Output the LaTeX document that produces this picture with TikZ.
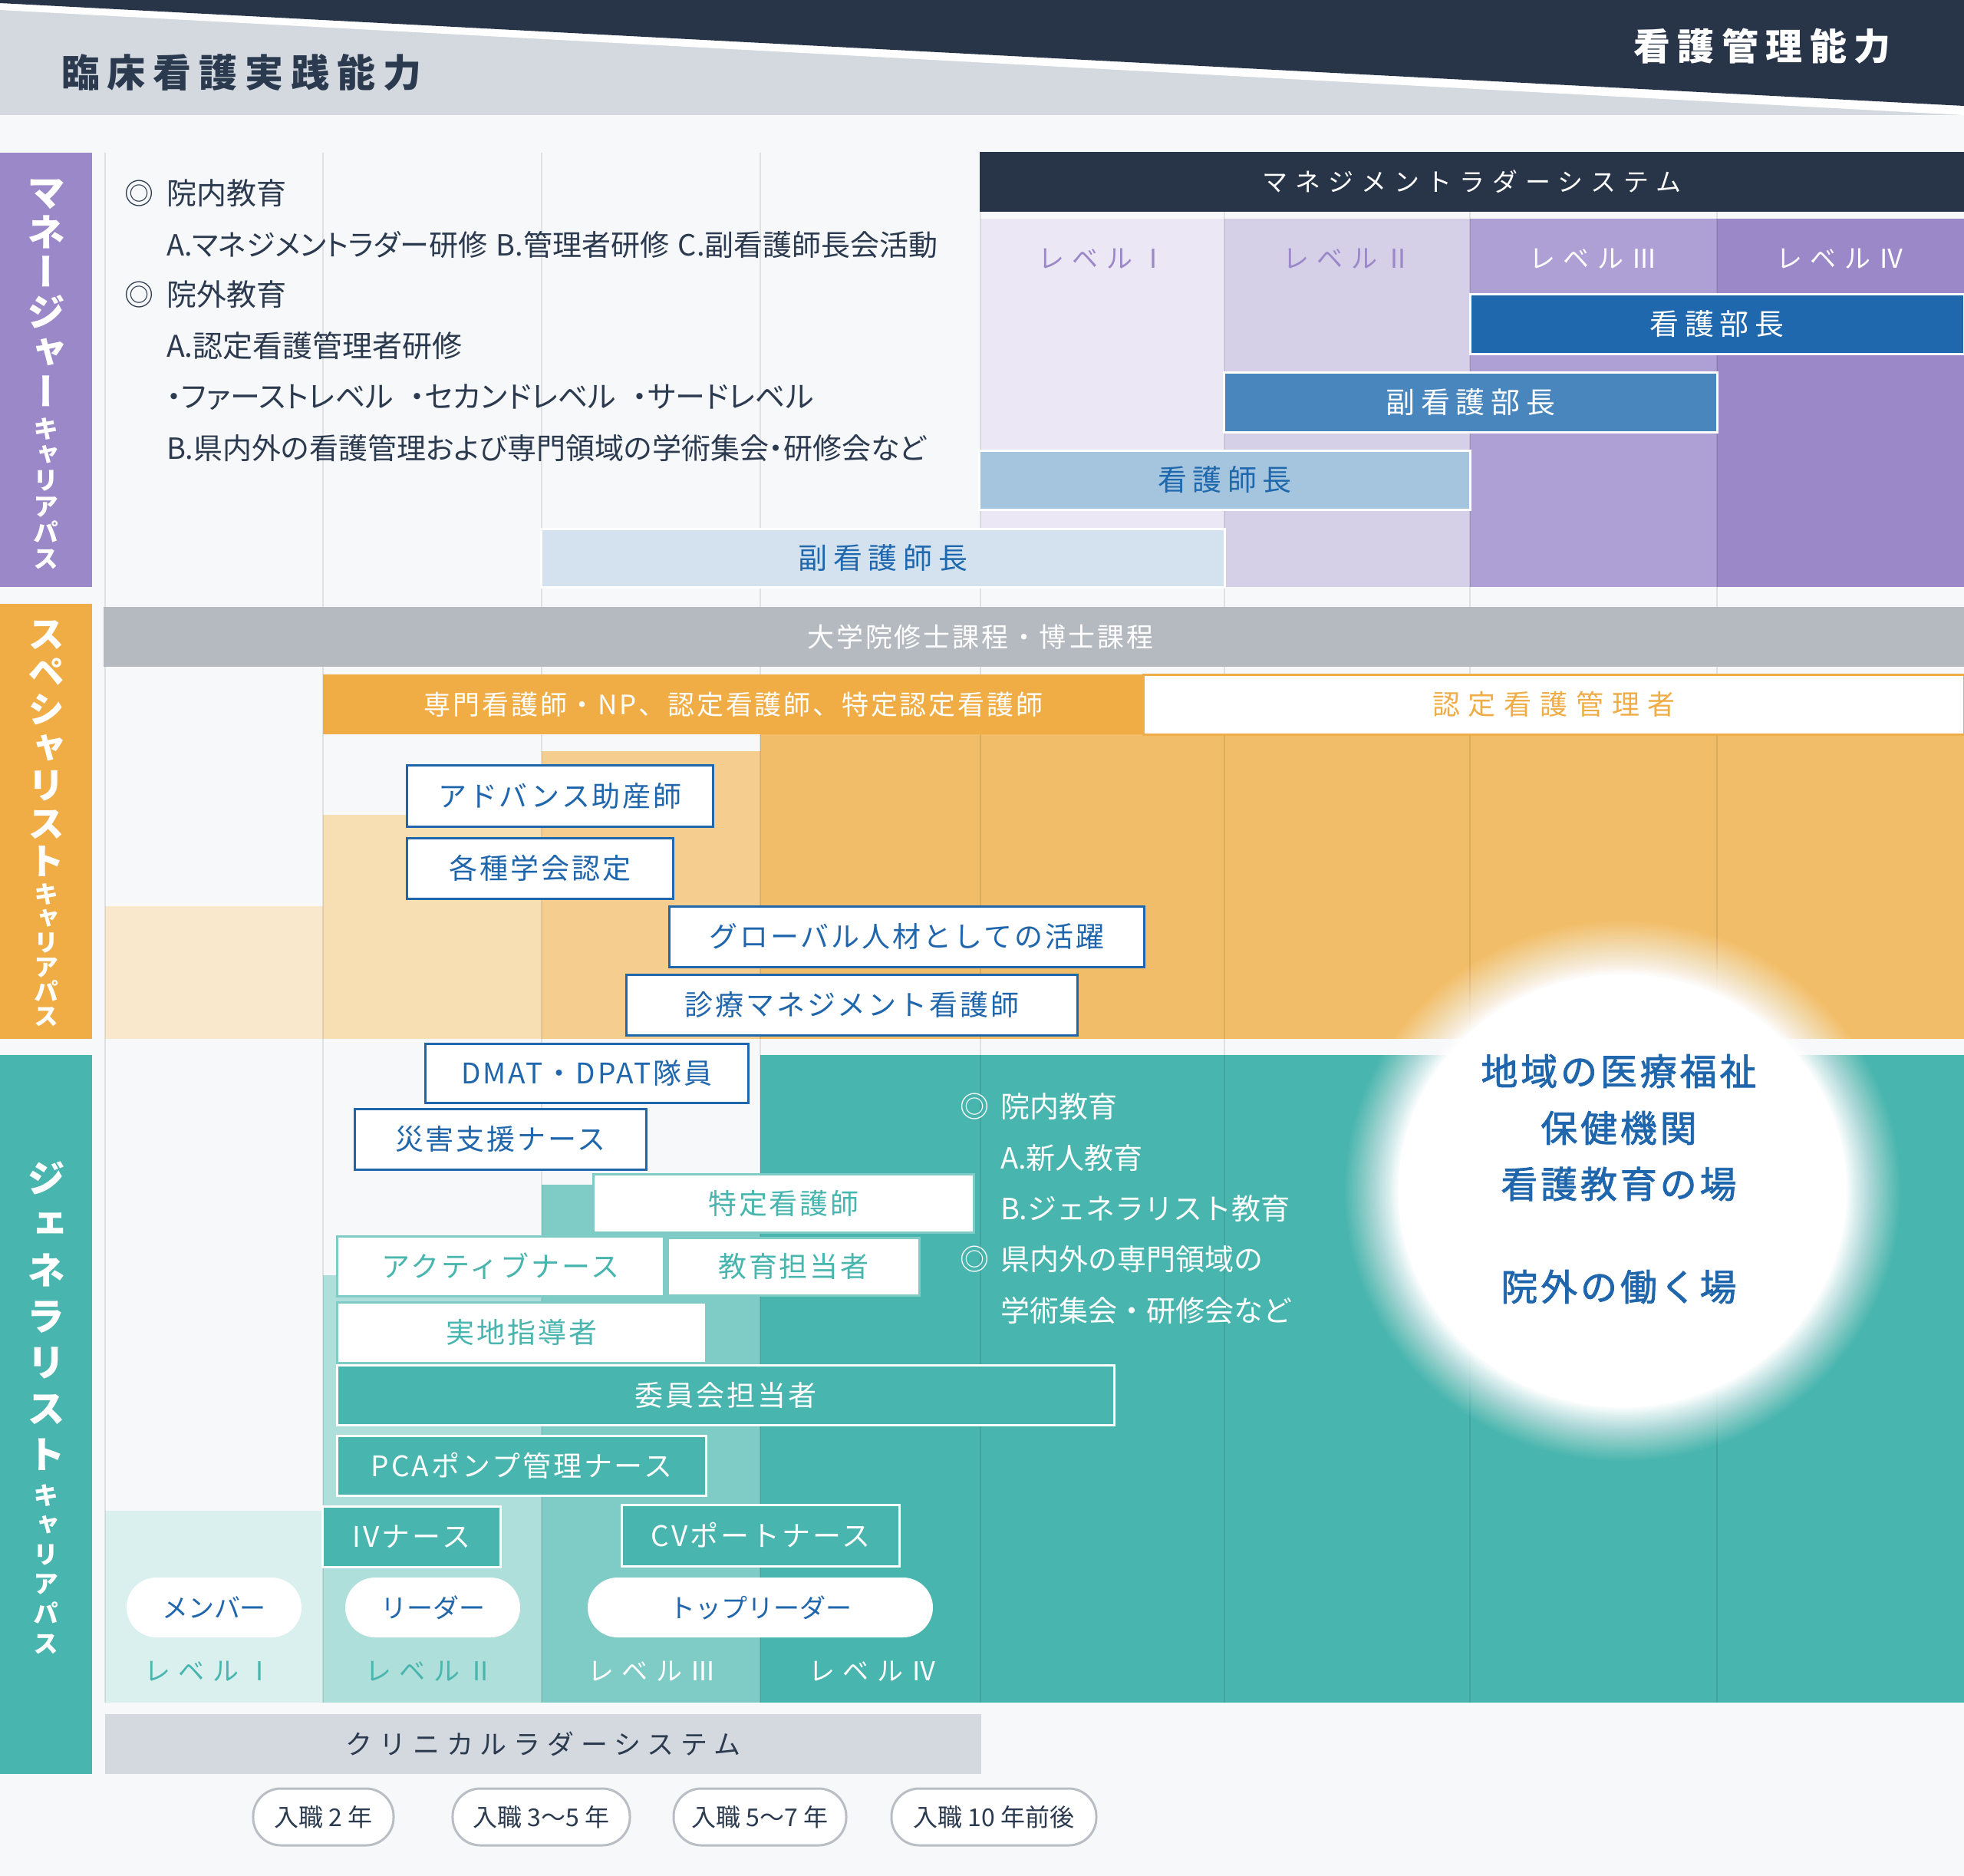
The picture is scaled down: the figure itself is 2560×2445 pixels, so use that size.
\documentclass[tikz,border=0pt]{standalone}
\usepackage{fontspec}
\setmainfont{Noto Sans CJK JP}
\newfontfamily\jp{Noto Sans CJK JP}
\newfontfamily\jpp[RawFeature=+palt]{Noto Sans CJK JP}
\newfontfamily\jpa[LetterSpace=8]{Noto Sans CJK JP}
\newfontfamily\jpm[LetterSpace=8,FakeBold=1.6]{Noto Sans CJK JP}
\newfontfamily\jpb[LetterSpace=20]{Noto Sans CJK JP}
\newfontfamily\jpc[LetterSpace=30]{Noto Sans CJK JP}
\newfontfamily\jpe[LetterSpace=25]{Noto Sans CJK JP}
\newfontfamily\jpd[LetterSpace=40]{Noto Sans CJK JP}
\newfontfamily\jpv[RawFeature=+vert]{Noto Sans CJK JP}
\newcommand\fpx[1]{\fontsize{\fpeval{#1*0.28453}pt}{\fpeval{#1*0.34}pt}\selectfont}
\definecolor{cnavy}{HTML}{283548}
\definecolor{ctext}{HTML}{2B3A4F}
\definecolor{cblue}{HTML}{1F66AC}
\definecolor{cbg}{HTML}{F7F8FA}
\definecolor{clgray}{HTML}{D3D9DE}
\definecolor{cmgray}{HTML}{B5B9C0}
\definecolor{cpur}{HTML}{9B88C8}
\definecolor{cpurc}{HTML}{AE9FD5}
\definecolor{cpurb}{HTML}{D6CFE8}
\definecolor{cpura}{HTML}{ECE7F4}
\definecolor{cora}{HTML}{F0AD45}
\definecolor{corb}{HTML}{F2BD68}
\definecolor{corc}{HTML}{F5CD8F}
\definecolor{cord}{HTML}{F8DEB3}
\definecolor{core}{HTML}{FAE8CC}
\definecolor{cteal}{HTML}{48B5AE}
\definecolor{ctealc}{HTML}{7FCBC6}
\definecolor{ctealb}{HTML}{AEDFDB}
\definecolor{cteala}{HTML}{DAF0EE}
\definecolor{crolea}{HTML}{1F68AD}
\definecolor{croleb}{HTML}{4886BD}
\definecolor{crolec}{HTML}{A5C4DD}
\definecolor{croled}{HTML}{D3E2EE}
\definecolor{cpill}{HTML}{B9BEC5}
% name, style, x1, x2, y1, y2, text
\newcommand\mybox[7]{%
  \pgfmathsetmacro\mbcx{(#3+#4)/2}%
  \pgfmathsetmacro\mbcy{(#5+#6)/2}%
  \pgfmathsetmacro\mbw{(#4-#3)*0.1}%
  \pgfmathsetmacro\mbh{(#6-#5)*0.1}%
  \node[#2, minimum width=\mbw mm, minimum height=\mbh mm] (#1) at (\mbcx,\mbcy) {#7};}
\begin{document}
\begin{tikzpicture}[x=0.1mm,y=-0.1mm,
  every node/.style={inner sep=0pt,outer sep=0pt},
  gridl/.style={line width=0.25mm,draw=black,draw opacity=0.09},
  vchar/.style={font=\jpv\bfseries\fpx{#1},text=white,anchor=base},
  desc/.style={font=\jpp\fpx{39},text=ctext,anchor=west},
  descw/.style={font=\jp\fpx{38},text=white,anchor=west},
  lvl/.style={font=\jpc\fpx{34}},
  rolebox/.style={draw=white,line width=0.3mm,font=\jpb\fpx{38}},
  bluebox/.style={draw=cblue,fill=white,line width=0.3mm,text=cblue,font=\jpa\fpx{37}},
  tealline/.style={draw=ctealc,fill=white,line width=0.3mm,text=cteal,font=\jpa\fpx{37}},
  tealfill/.style={draw=white,fill=cteal,line width=0.3mm,text=white,font=\jpa\fpx{37}},
  pill/.style={fill=white,rounded corners=3.9mm,text=cblue,font=\jp\fpx{34}},
  yearpill/.style={fill=white,draw=cpill,line width=0.3mm,rounded corners=3.6mm,text=ctext,font=\jp\fpx{32}},
  glowtxt/.style={font=\jpm\fpx{48},text=cblue},
]
\useasboundingbox (0,0) rectangle (2560,2445);
\fill[cbg] (0,0) rectangle (2560,2445);
% ---------- header
\fill[clgray] (0,0) rectangle (2560,150);
\fill[white] (0,0) -- (2560,0) -- (2560,150) -- (0,13) -- cycle;
\fill[cnavy] (0,0) -- (2560,0) -- (2560,138) -- (0,4) -- cycle;
\node[anchor=west,font=\jpb\bfseries\fpx{50},text=ctext] (title) at (80,94) {臨床看護実践能力};
\node[anchor=west,font=\jpb\bfseries\fpx{48},text=white] (title2) at (2129,60) {看護管理能力};
% ---------- left bars
\fill[cpur] (0,199) rectangle (120,765);
\fill[cora] (0,787) rectangle (120,1354);
\fill[cteal] (0,1375) rectangle (120,2312);
\foreach \c [count=\i from 0] in {マ,ネ,ー,ジ,ャ,ー}
  \node[vchar=50] (vm\i) at (60,{269+52*\i}) {\c};
\foreach \c [count=\i from 0] in {キ,ャ,リ,ア,パ,ス}
  \node[vchar=33] (vmk\i) at (60,{571+33.8*\i}) {\c};
\foreach \c [count=\i from 0] in {ス,ペ,シ,ャ,リ,ス,ト}
  \node[vchar=48] (vs\i) at (60,{844+49.4*\i}) {\c};
\foreach \c [count=\i from 0] in {キ,ャ,リ,ア,パ,ス}
  \node[vchar=32] (vsk\i) at (60,{1177+31.8*\i}) {\c};
\foreach \c [count=\i from 0] in {ジ,ェ,ネ,ラ,リ,ス,ト}
  \node[vchar=50] (vg\i) at (60,{1554+60*\i}) {\c};
\foreach \c [count=\i from 0] in {キ,ャ,リ,ア,パ,ス}
  \node[vchar=33] (vgk\i) at (60,{1961+38.6*\i}) {\c};
% ---------- background areas
\fill[cpura] (1278,285) rectangle (1596,765);
\fill[cpurb] (1596,285) rectangle (1916,765);
\fill[cpurc] (1916,285) rectangle (2238,765);
\fill[cpur] (2238,285) rectangle (2560,765);
\fill[corb] (991,957) rectangle (2560,1354);
\fill[corc] (706,979) rectangle (991,1354);
\fill[cord] (421,1062) rectangle (706,1354);
\fill[core] (137,1181) rectangle (421,1354);
\fill[cteal] (991,1375) rectangle (2560,2219);
\fill[ctealc] (706,1544) rectangle (991,2219);
\fill[ctealb] (421,1662) rectangle (706,2219);
\fill[cteala] (137,1969) rectangle (421,2219);
% ---------- grid lines
\foreach \x in {137,421,706,991,1278,1596,1916,2238}
  \draw[gridl] (\x,199) -- (\x,2219);
% ---------- glow (linear fade, 30 layers)
\foreach \k in {0,...,29}{
  \pgfmathsetmacro\grx{(362-2.4*\k)*0.1}
  \pgfmathsetmacro\gry{(352-2.4*\k)*0.1}
  \pgfmathsetmacro\gop{1/(30-\k)}
  \fill[white,fill opacity=\gop] (2115,1552) ellipse [x radius=\grx mm,y radius=\gry mm];
}
% ---------- management
\mybox{mls}{fill=cnavy,text=white,font=\jpc\fpx{33}}{1277}{2560}{198}{276}{マネジメントラダーシステム}
\node[lvl,text=cpur] (ml1) at (1437,337) {レベルⅠ};
\node[lvl,text=cpur] (ml2) at (1756,337) {レベルⅡ};
\node[lvl,text=white] (ml3) at (2077,337) {レベルⅢ};
\node[lvl,text=white] (ml4) at (2399,337) {レベルⅣ};
\mybox{r1}{rolebox,fill=crolea,text=white}{1916}{2560}{383}{461}{看護部長}
\mybox{r2}{rolebox,fill=croleb,text=white}{1596}{2238}{485}{563}{副看護部長}
\mybox{r3}{rolebox,fill=crolec,text=crolea}{1277}{1916}{587}{664}{看護師長}
\mybox{r4}{rolebox,fill=croled,text=crolea}{706}{1596}{689}{765}{副看護師長}
\node[font=\jp\fpx{38},text=ctext] (dm0) at (181,252) {◎};
\node[desc] (dm1) at (217,252) {院内教育};
\node[desc,font=\jpp\fpx{38}] (dm2) at (217,319) {A.マネジメントラダー研修\hspace{0.3em}B.管理者研修\hspace{0.3em}C.副看護師長会活動};
\node[font=\jp\fpx{38},text=ctext] (dm3) at (181,384) {◎};
\node[desc] (dm4) at (217,384) {院外教育};
\node[desc] (dm5) at (217,451) {A.認定看護管理者研修};
\node[desc] (dm6) at (217,518) {・ファーストレベル\hspace{0.55em}・セカンドレベル\hspace{0.55em}・サードレベル};
\node[desc,font=\jpp\fpx{38}] (dm7) at (217,584) {B.県内外の看護管理および専門領域の学術集会・研修会など};
% ---------- specialist
\mybox{grad}{fill=cmgray}{135}{2560}{791}{869}{}
\node[font=\jpa\fpx{35},text=white] (gradt) at (1278,830) {大学院修士課程・博士課程};
\mybox{sp1}{fill=cora,text=white,font=\jpa\fpx{35}}{421}{1491}{879}{957}{専門看護師・NP、認定看護師、特定認定看護師}
\mybox{sp2}{fill=white,draw=cora,line width=0.3mm,text=cora,font=\jpc\fpx{36}}{1491}{2560}{879}{957}{認定看護管理者}
\mybox{sb1}{bluebox}{531}{929}{997}{1077}{アドバンス助産師}
\mybox{sb2}{bluebox}{531}{877}{1092}{1171}{各種学会認定}
\mybox{sb3}{bluebox}{873}{1491}{1181}{1260}{グローバル人材としての活躍}
\mybox{sb4}{bluebox}{817}{1404}{1270}{1349}{診療マネジメント看護師}
% ---------- generalist
\mybox{g1}{bluebox}{555}{975}{1360}{1437}{DMAT・DPAT隊員}
\mybox{g2}{bluebox}{463}{842}{1445}{1524}{災害支援ナース}
\mybox{g3}{tealline}{774}{1269}{1530}{1606}{特定看護師}
\mybox{g4}{tealline}{440}{865}{1611}{1689}{アクティブナース}
\mybox{g5}{tealline}{871}{1198}{1613}{1688}{教育担当者}
\mybox{g6}{tealline}{440}{920}{1697}{1776}{実地指導者}
\mybox{g7}{tealfill}{440}{1452}{1779}{1857}{委員会担当者}
\mybox{g8}{tealfill}{440}{920}{1871}{1949}{PCAポンプ管理ナース}
\mybox{g9}{tealfill}{421}{652}{1963}{2042}{IVナース}
\mybox{g10}{tealfill}{811}{1172}{1961}{2041}{CVポートナース}
\mybox{p1}{pill}{165}{393}{2056}{2134}{メンバー}
\mybox{p2}{pill}{450}{678}{2056}{2134}{リーダー}
\mybox{p3}{pill}{766}{1216}{2056}{2134}{トップリーダー}
\node[lvl,text=cteal] (gl1) at (272,2178) {レベルⅠ};
\node[lvl,text=cteal] (gl2) at (560,2178) {レベルⅡ};
\node[lvl,text=white] (gl3) at (850,2178) {レベルⅢ};
\node[lvl,text=white] (gl4) at (1138,2178) {レベルⅣ};
\node[font=\jp\fpx{38},text=white] (dt0) at (1270,1442) {◎};
\node[descw] (dt1) at (1304,1442) {院内教育};
\node[descw] (dt2) at (1304,1509) {A.新人教育};
\node[descw] (dt3) at (1304,1575) {B.ジェネラリスト教育};
\node[font=\jp\fpx{38},text=white] (dt4) at (1270,1641) {◎};
\node[descw] (dt5) at (1304,1641) {県内外の専門領域の};
\node[descw] (dt6) at (1304,1708) {学術集会・研修会など};
\node[glowtxt] (w1) at (2110,1396) {地域の医療福祉};
\node[glowtxt] (w2) at (2110,1470) {保健機関};
\node[glowtxt] (w3) at (2110,1543) {看護教育の場};
\node[glowtxt] (w4) at (2110,1677) {院外の働く場};
% ---------- bottom
\mybox{cls}{fill=clgray,text=ctext,font=\jpe\fpx{35}}{137}{1279}{2234}{2312}{クリニカルラダーシステム}
\mybox{y1}{yearpill}{330}{513}{2331}{2405}{入職 2 年}
\mybox{y2}{yearpill}{590}{821}{2331}{2405}{入職 3〜5 年}
\mybox{y3}{yearpill}{878}{1103}{2331}{2405}{入職 5〜7 年}
\mybox{y4}{yearpill}{1162}{1429}{2331}{2405}{入職 10 年前後}
\end{tikzpicture}
\end{document}
